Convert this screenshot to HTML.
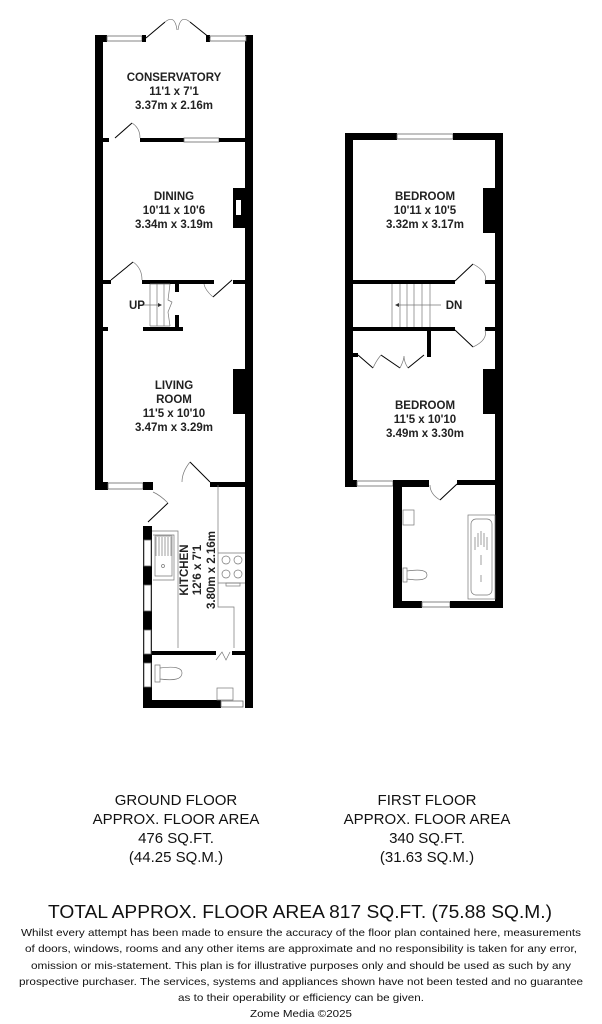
<!DOCTYPE html>
<html><head><meta charset="utf-8"><style>
html,body{margin:0;padding:0;background:#fff;}
svg{display:block;font-family:"Liberation Sans",Arial,sans-serif;}
.w{fill:#000}
.win{fill:#fff;stroke:#666;stroke-width:0.8}
.t{stroke:#000;stroke-width:1;fill:none}
.f{stroke:#777;stroke-width:0.7;fill:none}
.lbl{font-weight:bold;font-size:11.5px;text-anchor:middle;fill:#222}
.ft{font-size:15px;text-anchor:middle;fill:#111}
.d{font-size:10.5px;text-anchor:middle;fill:#111}
</style></head><body>
<svg width="602" height="1024" viewBox="0 0 602 1024">
<rect class="w" x="95" y="35" width="8" height="455"/>
<rect class="w" x="245" y="35" width="8" height="673"/>
<rect class="w" x="95" y="35" width="12" height="7"/>
<rect class="win" x="107" y="36" width="35" height="5"/>
<rect class="w" x="142" y="35" width="4" height="7"/>
<rect class="w" x="206" y="35" width="4" height="7"/>
<rect class="win" x="210" y="36" width="36" height="5"/>
<path class="t" d="M146 38 L165 22 M210 38 L190 22"/>
<path class="f" d="M165 22 Q175 14 177 30 M190 22 Q180 14 178 30"/>
<rect class="w" x="103" y="138" width="6" height="4"/>
<rect class="w" x="140" y="138" width="44" height="4"/>
<rect class="win" x="184" y="138" width="35" height="4"/>
<rect class="w" x="219" y="138" width="26" height="4"/>
<path class="t" d="M115 138 L132 123"/><path class="f" d="M132 123 Q140 128 140 138"/>
<rect class="w" x="233" y="188" width="12" height="40"/>
<rect fill="#fff" x="236" y="200" width="5" height="15"/>
<rect class="w" x="103" y="280" width="8" height="4"/>
<rect class="w" x="142" y="280" width="72" height="4"/>
<rect class="w" x="233" y="280" width="12" height="4"/>
<path class="t" d="M111 280 L133 262"/><path class="f" d="M133 262 Q142 268 142 280"/>
<path class="t" d="M232 280 L213 297"/><path class="f" d="M213 297 Q205 290 204 284"/>
<path class="f" d="M150 284 V326 M157 284 V326 M164 284 V326 M150 284 H170 M150 326 H170 M170 284 L168 300 L172 302 L168 312 L170 326"/>
<path class="f" d="M140 305 H160"/><path d="M158 303 L162 305 L158 307z" fill="#333"/>
<rect class="w" x="175" y="283" width="4" height="9"/>
<rect class="w" x="175" y="315" width="4" height="12"/>
<rect class="w" x="143" y="327" width="40" height="4"/>
<rect class="w" x="103" y="327" width="5" height="4"/>
<text x="137" y="309" class="lbl">UP</text>
<rect class="w" x="233" y="369" width="12" height="45"/>
<rect class="w" x="95" y="482" width="13" height="8"/>
<rect class="win" x="108" y="483" width="35" height="6"/>
<rect class="w" x="143" y="482" width="10" height="8"/>
<rect class="w" x="210" y="482" width="43" height="5"/>
<path class="t" d="M190 462 L210 482"/><path class="f" d="M190 462 Q182 472 182 482"/>
<rect class="w" x="143" y="526" width="9" height="182"/>
<rect class="win" x="144" y="540" width="7" height="26"/>
<rect class="win" x="144" y="585" width="7" height="26"/>
<rect class="win" x="144" y="630" width="7" height="24"/>
<rect class="win" x="144" y="663" width="7" height="24"/>
<path class="t" d="M148 522 L168 503"/><path class="f" d="M168 503 Q160 495 153 492"/>
<path class="f" d="M152 531 H178 V648 M153 535 H174 V580 H153 M218 485 V607 H234 V648"/>
<path class="f" d="M156 537 V556 M159 537 V556 M162 537 V556 M165 537 V556 M168 537 V556 M171 537 V556 M155 536 H172 V576 H155z"/>
<circle cx="163" cy="566" r="1.5" class="f"/>
<path class="f" d="M218 553 H245 M218 583 H245"/>
<circle cx="226" cy="560" r="4" class="f"/><circle cx="238" cy="560" r="4" class="f"/>
<circle cx="226" cy="574" r="4" class="f"/><circle cx="238" cy="574" r="4" class="f"/>
<rect class="f" x="226" y="583" width="14" height="3"/>
<text transform="translate(188,570) rotate(-90)" class="lbl">KITCHEN</text>
<text transform="translate(201,570) rotate(-90)" class="lbl">12'6 x 7'1</text>
<text transform="translate(215,570) rotate(-90)" class="lbl">3.80m x 2.16m</text>
<rect class="w" x="152" y="651" width="64" height="4"/>
<rect class="w" x="232" y="651" width="13" height="4"/>
<path class="f" d="M216 660 L222 652 L226 660 L230 652"/>
<rect class="w" x="143" y="700" width="78" height="8"/>
<rect class="win" x="221" y="701" width="22" height="6"/>
<path class="f" d="M155 665 H160 V682 H155z M160 668 Q182 665 182 673 Q182 682 160 679"/>
<rect class="f" x="217" y="688" width="16" height="12"/>
<text class="lbl" x="174" y="81">CONSERVATORY</text>
<text class="lbl" x="174" y="95">11'1 x 7'1</text>
<text class="lbl" x="174" y="109">3.37m x 2.16m</text>
<text class="lbl" x="174" y="200">DINING</text>
<text class="lbl" x="174" y="214">10'11 x 10'6</text>
<text class="lbl" x="174" y="228">3.34m x 3.19m</text>
<text class="lbl" x="174" y="389">LIVING</text>
<text class="lbl" x="174" y="403">ROOM</text>
<text class="lbl" x="174" y="417">11'5 x 10'10</text>
<text class="lbl" x="174" y="431">3.47m x 3.29m</text>

<rect class="w" x="345" y="133" width="8" height="354"/>
<rect class="w" x="495" y="133" width="8" height="475"/>
<rect class="w" x="345" y="133" width="52" height="7"/>
<rect class="win" x="397" y="134" width="56" height="5"/>
<rect class="w" x="453" y="133" width="50" height="7"/>
<rect class="w" x="483" y="188" width="12" height="45"/>
<rect class="w" x="353" y="280" width="102" height="4"/>
<rect class="w" x="485" y="280" width="10" height="4"/>
<rect class="w" x="353" y="327" width="102" height="4"/>
<rect class="w" x="485" y="327" width="10" height="4"/>
<path class="t" d="M455 281 L473 264 M455 330 L473 347"/>
<path class="f" d="M473 264 Q488 272 485 281 M473 347 Q488 340 485 330"/>
<path class="f" d="M392 284 V327 M400 284 V327 M407 284 V327 M414 284 V327 M422 284 V327 M430 284 V327 M397 305 H441"/>
<path d="M399 303 L395 305 L399 307z" fill="#333"/>
<text class="lbl" x="454" y="309">DN</text>
<rect class="w" x="427" y="331" width="4" height="26"/>
<rect class="w" x="353" y="353" width="5" height="4"/>
<path class="t" d="M358 355 L373 368 M381 355 L400 368 M424 355 L408 368"/>
<path class="f" d="M373 368 Q376 361 381 355 M400 368 Q404 360 404 356 M408 368 Q404 362 404 356"/>
<rect class="w" x="483" y="369" width="12" height="45"/>
<rect class="w" x="345" y="480" width="12" height="7"/>
<rect class="win" x="357" y="481" width="36" height="5"/>
<rect class="w" x="393" y="480" width="36" height="7"/>
<rect class="w" x="457" y="480" width="46" height="5"/>
<path class="t" d="M440 500 L457 484"/><path class="f" d="M440 500 Q430 494 430 485"/>
<rect class="w" x="393" y="480" width="9" height="128"/>
<rect class="w" x="393" y="601" width="29" height="7"/>
<rect class="win" x="422" y="602" width="28" height="5"/>
<rect class="w" x="450" y="601" width="53" height="7"/>
<rect class="f" x="403" y="510" width="11" height="15"/>
<path class="f" d="M403 568 H407 V582 H403z M407 571 Q427 568 427 575 Q427 582 407 579"/>
<rect class="f" x="468" y="515" width="27" height="84"/>
<rect class="f" x="471" y="519" width="21" height="76" rx="5"/>
<path class="f" d="M481 531 V545 M478 533 V547 M484 533 V547 M475 537 V550 M487 537 V550 M481 555 V565 M481 575 V582"/>
<text class="lbl" x="425" y="200">BEDROOM</text>
<text class="lbl" x="425" y="214">10'11 x 10'5</text>
<text class="lbl" x="425" y="228">3.32m x 3.17m</text>
<text class="lbl" x="425" y="409">BEDROOM</text>
<text class="lbl" x="425" y="423">11'5 x 10'10</text>
<text class="lbl" x="425" y="437">3.49m x 3.30m</text>

<text class="ft" x="176" y="805">GROUND FLOOR</text>
<text class="ft" x="176" y="824">APPROX. FLOOR AREA</text>
<text class="ft" x="176" y="843">476 SQ.FT.</text>
<text class="ft" x="176" y="862">(44.25 SQ.M.)</text>
<text class="ft" x="427" y="805">FIRST FLOOR</text>
<text class="ft" x="427" y="824">APPROX. FLOOR AREA</text>
<text class="ft" x="427" y="843">340 SQ.FT.</text>
<text class="ft" x="427" y="862">(31.63 SQ.M.)</text>
<text x="300" y="918" style="font-size:18px;text-anchor:middle" fill="#111" textLength="504" lengthAdjust="spacingAndGlyphs">TOTAL APPROX. FLOOR AREA 817 SQ.FT. (75.88 SQ.M.)</text>
<text class="d" x="301" y="936" textLength="560" lengthAdjust="spacingAndGlyphs">Whilst every attempt has been made to ensure the accuracy of the floor plan contained here, measurements</text>
<text class="d" x="301" y="952" textLength="552" lengthAdjust="spacingAndGlyphs">of doors, windows, rooms and any other items are approximate and no responsibility is taken for any error,</text>
<text class="d" x="301" y="969" textLength="540" lengthAdjust="spacingAndGlyphs">omission or mis-statement. This plan is for illustrative purposes only and should be used as such by any</text>
<text class="d" x="301" y="985" textLength="564" lengthAdjust="spacingAndGlyphs">prospective purchaser. The services, systems and appliances shown have not been tested and no guarantee</text>
<text class="d" x="301" y="1001" textLength="246" lengthAdjust="spacingAndGlyphs">as to their operability or efficiency can be given.</text>
<text class="d" x="301" y="1017" textLength="102" lengthAdjust="spacingAndGlyphs">Zome Media ©2025</text>
</svg>
</body></html>
